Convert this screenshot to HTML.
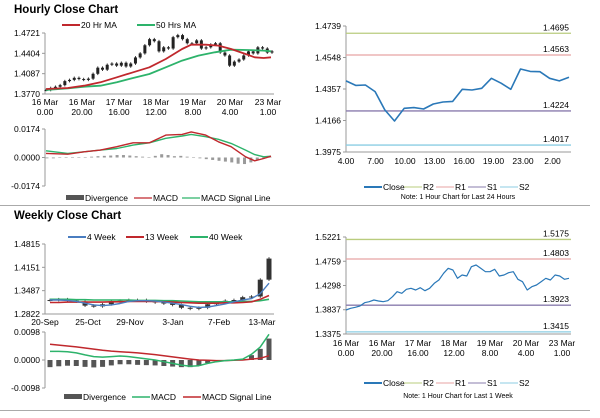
<!DOCTYPE html>
<html><head><meta charset="utf-8"><style>
body{margin:0;background:#fff;width:600px;height:413px;overflow:hidden;font-family:"Liberation Sans",sans-serif}
svg text{font-family:"Liberation Sans",sans-serif}
</style></head><body>
<svg id="s" width="600" height="413" xmlns="http://www.w3.org/2000/svg">
<text x="14" y="13" font-size="11.5" font-weight="bold">Hourly Close Chart</text>
<text x="14" y="219" font-size="11.5" font-weight="bold">Weekly Close Chart</text>
<line x1="0" y1="205.5" x2="590" y2="205.5" stroke="#aaa"/>
<line x1="0" y1="410.5" x2="590" y2="410.5" stroke="#aaa"/>
</svg>
<script>
// ---------- data ----------
const weekClose=[1.3832,1.3864,1.3883,1.3908,1.3971,1.3990,1.4022,1.4003,1.3990,1.4009,1.4085,1.4180,1.4149,1.4226,1.4245,1.4212,1.4257,1.4199,1.4245,1.4340,1.4403,1.4530,1.4625,1.4593,1.4435,1.4498,1.4479,1.4656,1.4688,1.4625,1.4561,1.4561,1.4606,1.4479,1.4498,1.4542,1.4561,1.4416,1.4371,1.4212,1.4275,1.4308,1.4371,1.4435,1.4403,1.4498,1.4479,1.4416,1.4435];
const maHours=[0,12,21,30,39,48,57,66,75,80,88,95,102,110,115,120,124];
const ma20=[1.3848,1.3864,1.3900,1.3952,1.4030,1.4108,1.4186,1.4316,1.4472,1.4539,1.4539,1.4524,1.4472,1.4393,1.4342,1.4331,1.4342];
const ma50Hours=[0,12,21,30,39,48,57,66,75,84,93,102,111,120,124];
const ma50=[1.3832,1.3858,1.3884,1.3900,1.3952,1.4020,1.4082,1.4186,1.4290,1.4368,1.4420,1.4461,1.4456,1.4446,1.4435];
const hMacd=[0.0025,0.0020,0.0035,0.0045,0.0066,0.0090,0.0090,0.0137,0.0141,0.0156,0.0137,0.0096,0.0066,0.0004,-0.0020,-0.0006,0.0008];
const hSignal=[0.0041,0.0025,0.0035,0.0045,0.0055,0.0076,0.0090,0.0117,0.0131,0.0141,0.0127,0.0111,0.0086,0.0045,0.0018,0.0004,0.0008];
const hDiv=[-0.0005,-0.0005,-0.0003,-0.0002,0,0,0.0003,0.0005,0.0008,0.0010,0.0012,0.0015,0.0015,0.0012,0.0008,0.0005,0.0003,0.0010,0.0020,0.0015,0.0008,0.0010,0.0005,0,-0.0005,-0.0010,-0.0015,-0.0020,-0.0025,-0.0030,-0.0038,-0.0040,-0.0030,-0.0015,-0.0005,0.0002];
const hourLabels=[["16 Mar","0.00"],["16 Mar","20.00"],["17 Mar","16.00"],["18 Mar","12.00"],["19 Mar","8.00"],["20 Mar","4.00"],["23 Mar","1.00"]];
const dayClose=[1.4406,1.4379,1.4381,1.4341,1.4230,1.4163,1.4240,1.4244,1.4236,1.4266,1.4278,1.4282,1.4355,1.4351,1.4361,1.4422,1.4392,1.4355,1.4478,1.4464,1.4462,1.4422,1.4406,1.4428];
const dayLabels=["4.00","7.00","10.00","13.00","16.00","19.00","23.00","2.00"];
const dayLevels=[1.4695,1.4563,1.4224,1.4017];
const weekLevels=[1.5175,1.4803,1.3923,1.3415];
const wkClose=[1.322,1.324,1.320,1.318,1.306,1.304,1.310,1.318,1.320,1.322,1.322,1.318,1.315,1.312,1.308,1.300,1.297,1.300,1.310,1.315,1.320,1.322,1.330,1.332,1.380,1.440];
const wk4=[1.322,1.322,1.321,1.318,1.313,1.308,1.306,1.308,1.312,1.318,1.320,1.320,1.319,1.316,1.313,1.309,1.304,1.301,1.302,1.306,1.311,1.317,1.322,1.326,1.340,1.370];
const wk13=[1.315,1.315,1.316,1.316,1.316,1.316,1.316,1.317,1.317,1.318,1.318,1.318,1.318,1.317,1.316,1.315,1.314,1.313,1.313,1.313,1.314,1.314,1.315,1.317,1.324,1.335];
const wk40=[1.324,1.324,1.324,1.323,1.323,1.322,1.322,1.322,1.322,1.322,1.321,1.321,1.321,1.320,1.320,1.319,1.318,1.317,1.317,1.317,1.317,1.317,1.318,1.318,1.320,1.324];
const wMacd=[0.0030,0.0030,0.0029,0.0025,0.0018,0.0012,0.0010,0.0012,0.0014,0.0012,0.0008,0.0004,0.0000,-0.0006,-0.0012,-0.0018,-0.0022,-0.0020,-0.0012,-0.0006,-0.0002,0.0000,0.0003,0.0020,0.0045,0.0090];
const wSignal=[0.0055,0.0052,0.0049,0.0046,0.0042,0.0038,0.0034,0.0031,0.0029,0.0027,0.0025,0.0022,0.0019,0.0015,0.0011,0.0007,0.0003,0.0000,-0.0001,-0.0002,-0.0002,-0.0001,0.0000,0.0003,0.0006,0.0015];
const wDiv=[-0.0025,-0.0022,-0.0020,-0.0021,-0.0024,-0.0026,-0.0024,-0.0019,-0.0015,-0.0015,-0.0017,-0.0018,-0.0019,-0.0021,-0.0023,-0.0025,-0.0025,-0.0020,-0.0011,-0.0004,0,0.0001,0.0003,0.0017,0.0039,0.0075];
const weekLabels=["20-Sep","25-Oct","29-Nov","3-Jan","7-Feb","13-Mar"];
// ---------- helpers ----------
const S=document.getElementById('s');const NS="http://www.w3.org/2000/svg";
function el(t,a,txt){const e=document.createElementNS(NS,t);for(const k in a)e.setAttribute(k,a[k]);if(txt!==undefined)e.textContent=txt;S.appendChild(e);return e;}
function lin(d0,d1,r0,r1){return v=>r0+(v-d0)/(d1-d0)*(r1-r0);}
function path(xs,ys,col,w,name){let d='';xs.forEach((x,i)=>{d+=(i?'L':'M')+x.toFixed(1)+' '+ys[i].toFixed(1);});const p=el('path',{d:d,fill:'none',stroke:col,'stroke-width':w,'stroke-linejoin':'round'});return p;}
function yAxis(x,y0,y1,ticks,ys,fmt){const a=el('line',{x1:x,y1:y0,x2:x,y2:y1,stroke:'#999'});
 ticks.forEach(t=>{el('line',{x1:x-3,y1:ys(t),x2:x,y2:ys(t),stroke:'#999'});const l=el('text',{x:x-5,y:ys(t)+3,'font-size':8.5,'text-anchor':'end'},t.toFixed(4));});}
function xAxis(x0,x1,y){const a=el('line',{x1:x0,y1:y,x2:x1,y2:y,stroke:'#999'});}
function legend(items,y){items.forEach(it=>{const g=el('g',{});
 const r=document.createElementNS(NS,it.bar?'rect':'line');if(it.bar){r.setAttribute('x',it.x);r.setAttribute('y',y-3);r.setAttribute('width',18);r.setAttribute('height',5);r.setAttribute('fill',it.c);}else{r.setAttribute('x1',it.x);r.setAttribute('y1',y);r.setAttribute('x2',it.x+18);r.setAttribute('y2',y);r.setAttribute('stroke',it.c);r.setAttribute('stroke-width',it.w||2);}g.appendChild(r);
 const t=document.createElementNS(NS,'text');t.setAttribute('x',it.x+19);t.setAttribute('y',y+3);t.setAttribute('font-size',8.5);t.textContent=it.t;g.appendChild(t);S.appendChild(g);});}
// ---------- hourly candles ----------
(function(){const X0=45,X1=274;const xs=lin(0,weekClose.length-1,X0+1,X1-2);const ys=lin(1.3770,1.4721,94,33);
 legend([{x:62,t:'20 Hr MA',c:'#c0282d'},{x:137,t:'50 Hrs MA',c:'#2db36b'}],25);
 yAxis(X0,33,94,[1.4721,1.4404,1.4087,1.3770],ys);xAxis(X0,X1,94);
 weekClose.forEach((c,i)=>{const o=i?weekClose[i-1]:c;const x=xs(i);const hi=Math.max(o,c)+0.002,lo=Math.min(o,c)-0.002;
  const w=el('line',{x1:x,y1:ys(hi),x2:x,y2:ys(lo),stroke:'#222','stroke-width':0.9});
  const b=el('rect',{x:x-1.5,y:ys(Math.max(o,c)),width:3,height:Math.max(1,Math.abs(ys(o)-ys(c))),fill:'#222'});});
 const hx=lin(0,124,X0+1,X1-3);
 path(ma50Hours.map(hx),ma50.map(ys),'#2db36b',1.8,'ma50-line');
 path(maHours.map(hx),ma20.map(ys),'#c0282d',1.8,'ma20-line');
 const px=[45,82,119,156,193,230,268];hourLabels.forEach((l,i)=>{const t=el('text',{x:px[i],y:105,'font-size':8.5,'text-anchor':'middle'},l[0]);el('text',{x:px[i],y:115,'font-size':8.5,'text-anchor':'middle'},l[1]);});
 // macd
 const my=lin(-0.0174,0.0174,186,129);yAxis(X0,129,186,[0.0174,0,-0.0174],my);
 const dx=lin(0,hDiv.length-1,X0+2,X1-4);hDiv.forEach((v,i)=>{const b=el('rect',{x:dx(i)-1.5,y:Math.min(my(v),my(0)),width:3,height:Math.max(0.5,Math.abs(my(v)-my(0))),fill:'#9a9a9a'});});
 path(maHours.map(hx),hSignal.map(my),'#2db36b',1.4,'macd-signal-line');
 path(maHours.map(hx),hMacd.map(my),'#c0282d',1.4,'macd-line');
 legend([{x:66,t:'Divergence',c:'#555',bar:1},{x:134,t:'MACD',c:'#c0282d',w:1.2},{x:182,t:'MACD Signal Line',c:'#2db36b',w:1.2}],198);})();
// ---------- level charts ----------
function levelChart(vals,levels,yt,ymin,ymax,Y0,Y1,xlab,note,legY,noteY,dual){const X0=346,X1=571;const ys=lin(ymin,ymax,Y1,Y0);const xs=lin(0,vals.length-1,X0,X1-2);
 yAxis(X0,Y0,Y1,yt,ys);xAxis(X0,X1,Y1);
 const cols=['#b9cc7e','#e7a3a3','#8a7cae','#8ccde3'],nm=['r2','r1','s1','s2'];
 levels.forEach((v,i)=>{const l=el('line',{x1:X0,y1:ys(v),x2:X1,y2:ys(v),stroke:cols[i],'stroke-width':1.3});
  const t=el('text',{x:X1-2,y:ys(v)-3,'font-size':8.5,'text-anchor':'end'},v.toFixed(4));});
 path(vals.map((v,i)=>xs(i)),vals.map(ys),'#2a78b8',dual?1.2:1.6,'close-line');
 xlab.forEach((l,i)=>{const x=X0+i*(dual?36:29.5);if(dual){el('text',{x:x,y:Y1+12,'font-size':8.5,'text-anchor':'middle'},l[0]);el('text',{x:x,y:Y1+22,'font-size':8.5,'text-anchor':'middle'},l[1]);}else{const t=el('text',{x:x,y:Y1+12,'font-size':8.5,'text-anchor':'middle'},l);}});
 legend([{x:364,t:'Close',c:'#2a78b8'},{x:404,t:'R2',c:cols[0],w:1},{x:436,t:'R1',c:cols[1],w:1},{x:468,t:'S1',c:cols[2],w:1},{x:500,t:'S2',c:cols[3],w:1}],legY);
 const n=el('text',{x:458,y:noteY,'font-size':7,'text-anchor':'middle'},note);}
levelChart(dayClose,dayLevels,[1.4739,1.4548,1.4357,1.4166,1.3975],1.3975,1.4739,26,152,dayLabels,'Note: 1 Hour Chart for Last 24 Hours',187,199,false);
levelChart(weekClose,weekLevels,[1.5221,1.4759,1.4298,1.3837,1.3375],1.3375,1.5221,237,334,hourLabels,'Note: 1 Hour Chart for  Last 1 Week',383,398,true);
// ---------- weekly ----------
(function(){const X0=45,X1=274;const xs=lin(0,wkClose.length-1,X0+5,X1-5);const ys=lin(1.2822,1.4815,314,244);
 legend([{x:68,t:'4 Week',c:'#4a7dc0'},{x:126,t:'13 Week',c:'#c0282d'},{x:190,t:'40 Week',c:'#2db36b'}],237);
 yAxis(X0,244,314,[1.4815,1.4151,1.3487,1.2822],ys);xAxis(X0,X1,314);
 wkClose.forEach((c,i)=>{const o=i?wkClose[i-1]:c;const x=xs(i);const hi=Math.max(o,c)+0.004,lo=Math.min(o,c)-0.004;
  const w=el('line',{x1:x,y1:ys(hi),x2:x,y2:ys(lo),stroke:'#222','stroke-width':0.8});
  const b=el('rect',{x:x-2.5,y:ys(Math.max(o,c)),width:5,height:Math.max(1,Math.abs(ys(o)-ys(c))),fill:'#333'});});
 const ix=wk4.map((v,i)=>xs(i));path(ix,wk40.map(ys),'#2db36b',1.6,'wk40-line');path(ix,wk13.map(ys),'#c0282d',1.6,'wk13-line');path(ix,wk4.map(ys),'#4a7dc0',1.4,'wk4-line');
 const px=[45,88,130,173,219,262];weekLabels.forEach((l,i)=>{const t=el('text',{x:px[i],y:325,'font-size':8.5,'text-anchor':'middle'},l);});
 const my=lin(-0.0098,0.0098,388,332);yAxis(X0,332,388,[0.0098,0,-0.0098],my);
 wDiv.forEach((v,i)=>{const b=el('rect',{x:xs(i)-2.5,y:Math.min(my(v),my(0)),width:5,height:Math.max(0.5,Math.abs(my(v)-my(0))),fill:'#555'});});
 path(ix,wSignal.map(my),'#c0282d',1.5,'macd-signal-line');path(ix,wMacd.map(my),'#2db36b',1.5,'macd-line');
 legend([{x:64,t:'Divergence',c:'#555',bar:1},{x:132,t:'MACD',c:'#2db36b',w:1.5},{x:183,t:'MACD Signal Line',c:'#c0282d',w:1.5}],397);})();
</script>
</body></html>
